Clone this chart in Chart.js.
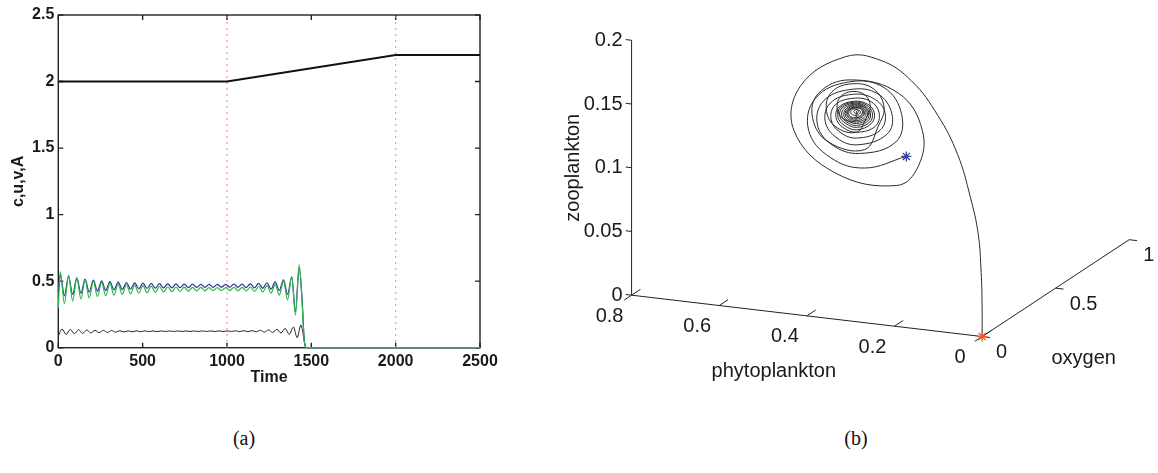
<!DOCTYPE html>
<html>
<head>
<meta charset="utf-8">
<script src="https://cdn.jsdelivr.net/npm/chart.js@4.4.1/dist/chart.umd.min.js"></script>
<style>
  html, body { margin: 0; padding: 0; background: #fff; }
  body { width: 1158px; height: 473px; position: relative; overflow: hidden; }
  #chartA { position: absolute; left: 0; top: 0; }
  #chartB { position: absolute; left: 520px; top: 0; }
  .cap { position: absolute; top: 438px; font-family: "Liberation Serif", "DejaVu Serif", serif; font-size: 20px; color: #111; transform: translate(-50%, -50%); }
</style>
</head>
<body>
<canvas id="chartA" width="520" height="400"></canvas>
<canvas id="chartB" width="638" height="400"></canvas>
<div class="cap" style="left:244px">(a)</div>
<div class="cap" style="left:856px">(b)</div>
<script>
// ---- panel (a): time series ----
const timeC = [0, 1000, 2000, 2500];
const seriesC = [2, 2, 2.2, 2.2];

const timeUV = [0, 12, 36, 61, 85, 110, 134, 159, 183, 208, 232, 257, 281, 306, 330, 355, 379, 404, 428, 453,
  477, 502, 526, 551, 575, 600, 624, 649, 673, 698, 722, 747, 771, 796, 820, 845, 869, 894, 918, 943,
  967, 992, 1016, 1041, 1065, 1090, 1114, 1139, 1163, 1188, 1212, 1237, 1261, 1286, 1310, 1335, 1359, 1384, 1406, 1428,
  1445, 1458, 1470, 1500, 2500];
const seriesU = [0.42, 0.55, 0.39, 0.535, 0.40, 0.525, 0.41, 0.515, 0.418, 0.508, 0.425, 0.502, 0.43, 0.497, 0.435, 0.493, 0.438, 0.49, 0.441, 0.487,
  0.443, 0.485, 0.445, 0.483, 0.447, 0.481, 0.449, 0.48, 0.45, 0.479, 0.451, 0.478, 0.452, 0.477, 0.453, 0.476, 0.454, 0.476, 0.454, 0.476,
  0.455, 0.476, 0.455, 0.477, 0.454, 0.478, 0.452, 0.48, 0.45, 0.483, 0.446, 0.488, 0.44, 0.495, 0.43, 0.51, 0.40, 0.53, 0.27, 0.60,
  0.37, 0.06, 0, 0, 0];
const seriesV = [0.30, 0.57, 0.33, 0.545, 0.35, 0.525, 0.365, 0.51, 0.375, 0.50, 0.385, 0.49, 0.39, 0.485, 0.395, 0.48, 0.40, 0.475, 0.405, 0.47,
  0.41, 0.466, 0.413, 0.463, 0.416, 0.46, 0.419, 0.458, 0.421, 0.456, 0.423, 0.455, 0.425, 0.454, 0.426, 0.453, 0.427, 0.452, 0.428, 0.452,
  0.429, 0.452, 0.429, 0.453, 0.428, 0.454, 0.426, 0.456, 0.423, 0.46, 0.418, 0.466, 0.41, 0.476, 0.395, 0.50, 0.36, 0.535, 0.245, 0.625,
  0.35, 0.05, 0, 0, 0];

const timeA = [0, 22, 46, 71, 95, 120, 144, 169, 193, 218, 242, 267, 291, 316, 340, 365, 389, 414, 438, 463,
  487, 512, 536, 561, 585, 610, 634, 659, 683, 708, 732, 757, 781, 806, 830, 855, 879, 904, 928, 953,
  977, 1002, 1026, 1051, 1075, 1100, 1124, 1149, 1173, 1198, 1222, 1247, 1271, 1296, 1320, 1345, 1369, 1394, 1416, 1438,
  1452, 1463, 1475, 1500, 2500];
const seriesA = [0.088, 0.14, 0.10, 0.137, 0.105, 0.135, 0.108, 0.133, 0.111, 0.131, 0.113, 0.130, 0.115, 0.129, 0.117, 0.128, 0.118, 0.127, 0.119, 0.127,
  0.120, 0.126, 0.121, 0.126, 0.121, 0.126, 0.122, 0.126, 0.122, 0.126, 0.122, 0.126, 0.122, 0.126, 0.122, 0.126, 0.122, 0.126, 0.122, 0.126,
  0.122, 0.126, 0.122, 0.127, 0.121, 0.128, 0.120, 0.129, 0.119, 0.131, 0.117, 0.134, 0.114, 0.138, 0.110, 0.145, 0.100, 0.155, 0.075, 0.170,
  0.10, 0.02, 0, 0, 0];

const markTimes = [1000, 2000];
const xTicksA = [0, 500, 1000, 1500, 2000, 2500];
const yTicksA = [0, 0.5, 1, 1.5, 2, 2.5];

// ---- panel (b): phase portrait (phytoplankton, zooplankton, oxygen) ----
// one row per loop of the trajectory
const phyto = [
  0.324,
  0.4195, 0.4978, 0.547, 0.5314, 0.4531, 0.3748, 0.3345, 0.3479,
  0.4307, 0.4933, 0.5269, 0.5135, 0.4531, 0.3904, 0.3569, 0.368,
  0.4352, 0.4821, 0.509, 0.4978, 0.4486, 0.3994, 0.3725, 0.3837,
  0.4374, 0.4754, 0.4956, 0.4866, 0.4463, 0.4061, 0.386, 0.3949,
  0.4374, 0.4687, 0.4844, 0.4777, 0.4441, 0.4128, 0.3971, 0.4038,
  0.4374, 0.4654, 0.4799, 0.4743, 0.443, 0.415, 0.4016, 0.4072,
  0.4374, 0.462, 0.4754, 0.471, 0.4419, 0.4173, 0.4061, 0.4106,
  0.4374, 0.4598, 0.471, 0.4665, 0.4419, 0.4195, 0.4094, 0.4139,
  0.4374, 0.4575, 0.4665, 0.462, 0.4419, 0.4217, 0.4128, 0.4173,
  0.4374, 0.4553, 0.4631, 0.4598, 0.4408, 0.424, 0.4161, 0.4206,
  0.4374, 0.4531, 0.4598, 0.4575, 0.4396, 0.4262, 0.4195, 0.424,
  0.4374, 0.4519, 0.4575, 0.4553, 0.4396, 0.4273, 0.4217, 0.4262,
  0.4374, 0.4508, 0.4553, 0.4531, 0.4396, 0.4285, 0.424, 0.4285,
  0.4374, 0.4463, 0.4508, 0.4486, 0.4396, 0.4329, 0.4285, 0.4307,
  0.4374, 0.4419, 0.4441, 0.4419, 0.4374, 0.434, 0.4329, 0.4352,
  0.4374,
  0.4419, 0.471, 0.4821, 0.4732, 0.4463, 0.4173, 0.4061, 0.415,
  0.4374, 0.4866, 0.5067, 0.4933, 0.4486, 0.3994, 0.3748, 0.3882,
  0.4195, 0.5023, 0.538, 0.5246, 0.4531, 0.3412, 0.2875, 0.2965, 0.3457,
  0.4866, 0.5806, 0.565, 0.462, 0.3815,
  0.2953, 0.2114, 0.1398, 0.0772, 0.0324, 0.0089, 0.0017, 0
];
const zoo = [
  0.094,
  0.081, 0.0862, 0.1055, 0.1312, 0.1473, 0.1459, 0.1263, 0.1044,
  0.092, 0.0962, 0.1108, 0.1296, 0.1412, 0.1407, 0.1261, 0.1097,
  0.0986, 0.102, 0.1139, 0.1287, 0.1376, 0.1365, 0.1262, 0.1121,
  0.1038, 0.1069, 0.1159, 0.1277, 0.1346, 0.134, 0.1257, 0.1147,
  0.1084, 0.1109, 0.1179, 0.1265, 0.1324, 0.1314, 0.1252, 0.1166,
  0.1103, 0.1126, 0.1184, 0.1263, 0.1317, 0.1306, 0.125, 0.1176,
  0.1122, 0.1142, 0.119, 0.126, 0.131, 0.1297, 0.1249, 0.1186,
  0.1137, 0.1155, 0.1196, 0.1258, 0.1302, 0.1293, 0.1247, 0.1192,
  0.1152, 0.1167, 0.1201, 0.1256, 0.1295, 0.1288, 0.1246, 0.1199,
  0.1164, 0.1175, 0.1207, 0.1253, 0.1288, 0.1283, 0.1245, 0.1205,
  0.1175, 0.1184, 0.1212, 0.1251, 0.1281, 0.1279, 0.1243, 0.1211,
  0.1187, 0.1192, 0.1216, 0.1251, 0.1277, 0.1274, 0.1246, 0.1214,
  0.1198, 0.12, 0.1221, 0.1252, 0.1273, 0.127, 0.1249, 0.1217,
  0.1213, 0.1217, 0.123, 0.1254, 0.1265, 0.1261, 0.1247, 0.1231,
  0.1228, 0.1234, 0.1241, 0.1253, 0.1259, 0.1256, 0.1249, 0.1237,
  0.1247,
  0.1166, 0.1184, 0.1263, 0.1351, 0.14, 0.1381, 0.1294, 0.1207,
  0.1084, 0.111, 0.1238, 0.138, 0.1459, 0.1441, 0.1307, 0.115,
  0.0954, 0.0982, 0.1157, 0.1353, 0.1488, 0.1427, 0.116, 0.0875, 0.0703,
  0.0745, 0.1041, 0.1397, 0.1667, 0.1669,
  0.1582, 0.1396, 0.1182, 0.0949, 0.0739, 0.0483, 0.0231, 0
];
const oxygen = [
  0.45,
  0.45, 0.45, 0.45, 0.45, 0.45, 0.45, 0.45, 0.45,
  0.45, 0.45, 0.45, 0.45, 0.45, 0.45, 0.45, 0.45,
  0.45, 0.45, 0.45, 0.45, 0.45, 0.45, 0.45, 0.45,
  0.45, 0.45, 0.45, 0.45, 0.45, 0.45, 0.45, 0.45,
  0.45, 0.45, 0.45, 0.45, 0.45, 0.45, 0.45, 0.45,
  0.45, 0.45, 0.45, 0.45, 0.45, 0.45, 0.45, 0.45,
  0.45, 0.45, 0.45, 0.45, 0.45, 0.45, 0.45, 0.45,
  0.45, 0.45, 0.45, 0.45, 0.45, 0.45, 0.45, 0.45,
  0.45, 0.45, 0.45, 0.45, 0.45, 0.45, 0.45, 0.45,
  0.45, 0.45, 0.45, 0.45, 0.45, 0.45, 0.45, 0.45,
  0.45, 0.45, 0.45, 0.45, 0.45, 0.45, 0.45, 0.45,
  0.45, 0.45, 0.45, 0.45, 0.45, 0.45, 0.45, 0.45,
  0.45, 0.45, 0.45, 0.45, 0.45, 0.45, 0.45, 0.45,
  0.45, 0.45, 0.45, 0.45, 0.45, 0.45, 0.45, 0.45,
  0.45, 0.45, 0.45, 0.45, 0.45, 0.45, 0.45, 0.45,
  0.45,
  0.45, 0.45, 0.45, 0.45, 0.45, 0.45, 0.45, 0.45,
  0.45, 0.45, 0.45, 0.45, 0.45, 0.45, 0.45, 0.45,
  0.45, 0.45, 0.45, 0.45, 0.45, 0.45, 0.45, 0.45, 0.45,
  0.45, 0.45, 0.45, 0.45, 0.45,
  0.40, 0.33, 0.25, 0.15, 0.07, 0.02, 0.005, 0
];
const zooTicks = [0, 0.05, 0.1, 0.15, 0.2];
const phytoTicks = [0, 0.2, 0.4, 0.6, 0.8];
const oxyTicks = [0, 0.5, 1];

const FONT = '"Liberation Sans", Arial, Helvetica, sans-serif';
const INK = '#1a1a1a';

// ---------- chart (a) ----------
(() => {
  const pts = (t, v) => t.map((x, i) => ({ x, y: v[i] }));
  const ds = (t, v, color, w, extra) => Object.assign({
    data: pts(t, v), borderColor: color, borderWidth: w, pointRadius: 0, fill: false, clip: false
  }, extra || {});

  const boxTicks = {
    id: 'boxTicks',
    beforeDatasetsDraw(chart) {
      const { ctx, chartArea: a, scales: { x, y } } = chart;
      ctx.save();
      ctx.strokeStyle = '#222';
      ctx.lineWidth = 1.4;
      ctx.strokeRect(a.left, a.top, a.right - a.left, a.bottom - a.top);
      ctx.beginPath();
      xTicksA.forEach(t => {
        const px = x.getPixelForValue(t);
        ctx.moveTo(px, a.bottom); ctx.lineTo(px, a.bottom - 5);
        ctx.moveTo(px, a.top); ctx.lineTo(px, a.top + 5);
      });
      yTicksA.forEach(v => {
        const py = y.getPixelForValue(v);
        ctx.moveTo(a.left, py); ctx.lineTo(a.left + 5, py);
        ctx.moveTo(a.right, py); ctx.lineTo(a.right - 5, py);
      });
      ctx.stroke();
      ctx.restore();
    }
  };

  const bold = { family: FONT, size: 16, weight: 'bold' };
  new Chart(document.getElementById('chartA'), {
    type: 'line',
    data: {
      datasets: [
        ds(timeUV, seriesV, '#2fb34c', 1.2, { cubicInterpolationMode: 'monotone' }),
        ds(timeUV, seriesU, '#27358f', 1.2, { cubicInterpolationMode: 'monotone' }),
        ds(timeA, seriesA, '#222', 1.0, { cubicInterpolationMode: 'monotone' }),
        ds(timeC, seriesC, '#111', 2.0),
        ...markTimes.map(m => ds([m, m], [0, 2.5], '#ef7d68', 1.2, { borderDash: [1.5, 4.5] }))
      ]
    },
    options: {
      responsive: false,
      animation: false,
      layout: { padding: { left: 0, right: 40, top: 15, bottom: 0 } },
      plugins: { legend: { display: false }, tooltip: { enabled: false } },
      scales: {
        x: {
          type: 'linear', min: 0, max: 2500,
          afterFit(s) { s.height = 52.3; },
          grid: { display: false, drawTicks: false },
          border: { display: false },
          ticks: { stepSize: 500, autoSkip: false, maxRotation: 0, padding: 4.5, color: INK, font: bold, callback: v => String(v) },
          title: { display: true, text: 'Time', color: INK, font: bold, padding: { top: 0, bottom: 12.4 } }
        },
        y: {
          min: 0, max: 2.5,
          afterFit(s) { s.width = 58.3; },
          grid: { display: false, drawTicks: false },
          border: { display: false },
          ticks: { stepSize: 0.5, padding: 4, color: INK, font: bold, callback: v => String(v) },
          title: { display: true, text: 'c,u,v,A', color: INK, font: bold, padding: { top: 8.7, bottom: 0 } }
        }
      }
    },
    plugins: [boxTicks]
  });
})();

// ---------- chart (b) ----------
(() => {
  // view transform: pixels per unit of each variable (x right, y up)
  const VIEW = { p: [-447, 53.4], o: [150, 100], z: [0, 1316] };
  const project = (p, o, z) => ({
    x: VIEW.p[0] * p + VIEW.o[0] * o + VIEW.z[0] * z,
    y: VIEW.p[1] * p + VIEW.o[1] * o + VIEW.z[1] * z
  });
  const line = (a, b, w) => ({
    data: [project(...a), project(...b)], showLine: true, borderColor: '#222', borderWidth: w || 1,
    pointRadius: 0, clip: false
  });

  const frame = [
    line([0, 0, 0], [0.8, 0, 0]),
    line([0.8, 0, 0], [0.8, 0, 0.2]),
    line([0, 0, 0], [0, 1, 0])
  ];
  zooTicks.forEach(z => frame.push(line([0.8, 0, z], [0.8134, 0, z])));
  phytoTicks.forEach(p => frame.push(line([p, 0, 0], [p, 0.06, 0])));
  [0, 0.8].forEach(p => frame.push(line([p, 0, 0], [p, -0.05, 0])));
  oxyTicks.forEach(o => frame.push(line([0, o, 0], [-0.018, o, 0])));

  const traj = phyto.map((p, i) => project(p, oxygen[i], zoo[i]));
  const last = phyto.length - 1;

  const labels = {
    id: 'labels3d',
    afterDraw(chart) {
      const { ctx, scales: { x, y } } = chart;
      const px = (p, o, z) => { const q = project(p, o, z); return [x.getPixelForValue(q.x), y.getPixelForValue(q.y)]; };
      ctx.save();
      ctx.fillStyle = INK;
      ctx.font = '20px ' + FONT;
      ctx.textBaseline = 'middle';
      ctx.textAlign = 'right';
      zooTicks.forEach(z => { const [a, b] = px(0.8, 0, z); ctx.fillText(String(z), a - 9, b); });
      ctx.textAlign = 'center';
      phytoTicks.forEach(p => { const [a, b] = px(p, 0, 0); ctx.fillText(String(p), a - 22, b + 21); });
      ctx.textAlign = 'left';
      oxyTicks.forEach(o => { const [a, b] = px(0, o, 0); ctx.fillText(String(o), a + 14, b + 16); });
      ctx.textAlign = 'center';
      let [a, b] = px(0.4, 0, 0);
      ctx.fillText('phytoplankton', a - 33, b + 56);
      [a, b] = px(0, 0.5, 0);
      ctx.fillText('oxygen', a + 28, b + 70);
      [a, b] = px(0.8, 0, 0.1);
      ctx.translate(a - 58, b);
      ctx.rotate(-Math.PI / 2);
      ctx.fillText('zooplankton', 0, 0);
      ctx.restore();
    }
  };

  new Chart(document.getElementById('chartB'), {
    type: 'scatter',
    data: {
      datasets: [
        { data: [traj[last]], pointStyle: 'star', radius: 5, borderColor: '#ea5a2e', borderWidth: 1.3, clip: false },
        { data: [traj[0]], pointStyle: 'star', radius: 5, borderColor: '#2f3f9f', borderWidth: 1.3, clip: false },
        { data: traj, showLine: true, tension: 0.4, borderColor: '#2a2a2a', borderWidth: 1, pointRadius: 0, clip: false },
        ...frame
      ]
    },
    options: {
      responsive: false,
      animation: false,
      layout: { padding: 0 },
      plugins: { legend: { display: false }, tooltip: { enabled: false } },
      scales: {
        x: { type: 'linear', display: false, min: -465, max: 173 },
        y: { type: 'linear', display: false, min: -59, max: 341 }
      }
    },
    plugins: [labels]
  });
})();
</script>
</body>
</html>
